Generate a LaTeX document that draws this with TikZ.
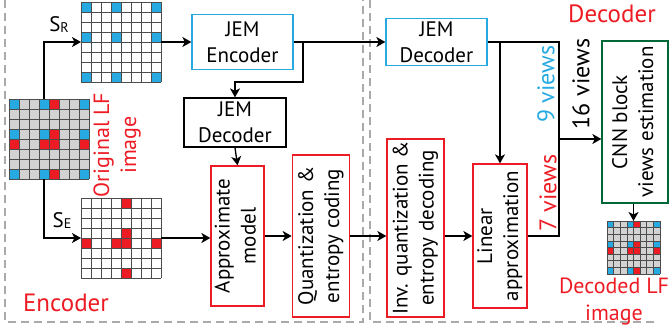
\documentclass[tikz,border=0pt]{standalone}
\usepackage{fontspec}
\setmainfont{PT Sans}
\usepackage{graphicx}
\usetikzlibrary{arrows.meta,positioning,calc}

\definecolor{lfblue}{RGB}{39,170,225}
\definecolor{lfred}{RGB}{237,28,36}
\definecolor{lfgreen}{RGB}{0,104,55}
\definecolor{cellgray}{RGB}{210,210,210}
\definecolor{zonegray}{RGB}{170,170,170}

\newcommand{\boxfont}{\fontsize{21}{26}\selectfont}
\newcommand{\viewfont}{\fontsize{24}{28}\selectfont}
\newcommand{\tagfont}{\fontsize{25}{28}\selectfont}
\newcommand{\lffont}{\fontsize{22}{27}\selectfont}
\newcommand{\vtext}[1]{\rotatebox{90}{\begin{tabular}{@{}c@{}}#1\end{tabular}}}

% cells of a view grid: node, cell size, colour, row/col list
\newcommand{\gridcells}[4]{%
  \foreach \rw/\cl in {#4}
    \fill[#3] ($(#1.north west)+(\cl*#2,-\rw*#2)$) rectangle ++(#2,-#2);}
\newcommand{\gridlines}[2]{%
  \foreach \i in {0,...,8}{
    \draw[gridline] ($(#1.north west)+(\i*#2,0)$) -- ++(0,-8*#2);
    \draw[gridline] ($(#1.north west)+(0,-\i*#2)$) -- ++(8*#2,0);}}

\tikzset{
  gridbox/.style={inner sep=0pt, outer sep=0pt, minimum size=#1},
  gridline/.style={draw=black!70, line width=0.7pt},
  block/.style={draw, line width=1.3pt, inner sep=0pt, align=center, font=\boxfont},
  arr/.style={-{Stealth[length=9pt,width=10pt,inset=2.5pt]}, line width=1.3pt},
  link/.style={line width=1.3pt},
  zone/.style={draw=zonegray, line width=1.6pt, dash pattern=on 8pt off 5pt},
  tag/.style={text=lfred, font=\tagfont}
}

\begin{document}
\begin{tikzpicture}[x=1pt,y=1pt]
\useasboundingbox (0,0) rectangle (670,-327);
\draw[zone] (5,0) -- (5,-322) -- (363,-322) -- (363,0);
\draw[zone] (370,0) -- (370,-322) -- (655,-322);
%----------------------------------
\node [gridbox=80pt] (orig) at (49,-139) {};
\node [gridbox=80pt] (gridr) at (121,-42) {};
\node [gridbox=80pt] (gride) at (121,-238) {};
\node [gridbox=53pt] (decgrid) at (633.5,-247.5) {};
\fill[cellgray] (orig.north west) rectangle (orig.south east);
\fill[white] (gridr.north west) rectangle (gridr.south east);
\fill[white] (gride.north west) rectangle (gride.south east);
\fill[cellgray] (decgrid.north west) rectangle (decgrid.south east);
\gridcells{orig}{10}{lfblue}{0/0,0/3,0/7,3/0,3/3,3/7,7/0,7/3,7/7}
\gridcells{orig}{10}{lfred}{0/4,3/4,4/0,4/3,4/4,4/7,7/4}
\gridcells{gridr}{10}{lfblue}{0/0,0/3,0/7,3/0,3/3,3/7,7/0,7/3,7/7}
\gridcells{gride}{10}{lfred}{0/4,3/4,4/0,4/3,4/4,4/7,7/4}
\gridcells{decgrid}{6.625}{lfblue}{0/0,0/3,0/7,3/0,3/3,3/7,7/0,7/3,7/7}
\gridcells{decgrid}{6.625}{lfred}{0/4,3/4,4/0,4/3,4/4,4/7,7/4}
\gridlines{orig}{10}
\gridlines{gridr}{10}
\gridlines{gride}{10}
\gridlines{decgrid}{6.625}
%----------------------------------
\node [block, draw=lfblue, minimum width=101pt, minimum height=55pt] (jemenc) at (242.5,-42) {JEM\\Encoder};
\node [block, minimum width=102pt, minimum height=49pt] (jemdeca) at (235,-122.5) {JEM\\Decoder};
\node [block, draw=lfred, minimum width=53pt, minimum height=140pt] (approx) at (237.5,-236) {\vtext{Approximate\\model}};
\node [block, draw=lfred, minimum width=57pt, minimum height=162pt, right=27pt of approx] (quant) {\vtext{Quantization \&\\entropy coding}};
%----------------------------------
\node [block, draw=lfblue, minimum width=101pt, minimum height=47pt] (jemdecb) at (436.5,-42) {JEM\\Decoder};
\node [block, draw=lfred, minimum width=57pt, minimum height=178pt] (invq) at (415.5,-228) {\vtext{Inv. quantization \&\\entropy decoding}};
\node [block, draw=lfred, minimum width=54pt, minimum height=144pt] (linapp) at (500,-236) {\vtext{Linear\\approximation}};
\node [block, draw=lfgreen, minimum width=66pt, minimum height=162pt] (cnn) at (635,-122) {\vtext{CNN block\\views estimation}};
%----------------------------------
\node [font=\boxfont, inner sep=0pt] (sr) at (59,-25) {S\raisebox{-1pt}{\fontsize{14}{14}\selectfont R}};
\node [font=\boxfont, inner sep=0pt] (se) at (62,-221) {S\raisebox{-1pt}{\fontsize{14}{14}\selectfont E}};
\node [tag, font=\lffont, rotate=90, align=center, inner sep=0pt] (origlbl) at (117,-145) {Original LF\\image};
\node [tag, font=\lffont, align=center, inner sep=0pt] (declbl) at (614,-302) {Decoded LF\\image};
\node [tag, inner sep=0pt] (enclbl) at (66,-303) {Encoder};
\node [tag, inner sep=0pt] (decbl) at (612,-14) {Decoder};
\node [font=\viewfont, text=lfblue, rotate=90, inner sep=0pt] (v9) at (546,-84) {9 views};
\node [font=\viewfont, rotate=90, inner sep=0pt] (v16) at (581,-84) {16 views};
\node [font=\viewfont, text=lfred, rotate=90, inner sep=0pt] (v7) at (548,-193) {7 views};
%----------------------------------
\coordinate (br1) at (303,-42);
\coordinate (join) at (559,-139);
\draw[arr] ([xshift=-5pt]orig.north) |- (gridr.west);
\draw[arr] ([xshift=-5pt]orig.south) |- (gride.west);
\draw[arr] (gridr.east) -- (jemenc.west);
\draw[arr] (jemenc.east) -- (jemdecb.west);
\draw[arr] (br1) -- ++(0,-40) -| (jemdeca.north);
\draw[arr] (jemdeca.south) -- (approx.north);
\draw[arr] (gride.east) -- (gride.east -| approx.west);
\draw[arr] (approx.east) -- (quant.west);
\draw[arr] (quant.east) -- (quant.east -| invq.west);
\draw[arr] (linapp.west -| invq.east) -- (linapp.west);
\draw[link] (jemdecb.east) -| (join) |- (linapp.east);
\draw[arr] (jemdecb.east -| linapp.north) -- (linapp.north);
\draw[arr] (join) -- (join -| cnn.west);
\draw[arr] (decgrid.north |- cnn.south) -- (decgrid.north);
\end{tikzpicture}
\end{document}
